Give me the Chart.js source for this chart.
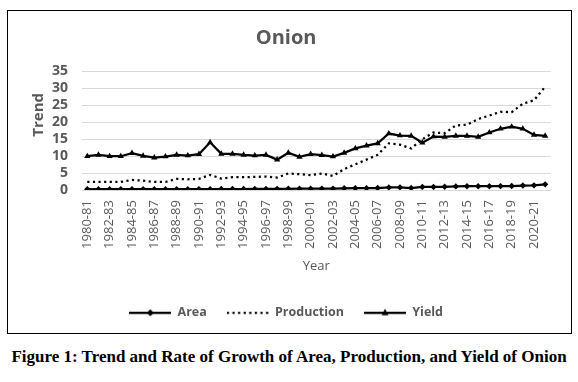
<!DOCTYPE html>
<html>
<head>
<meta charset="utf-8">
<script src="https://cdn.jsdelivr.net/npm/chart.js@4.4.0/dist/chart.umd.min.js"></script>
<style>
  html, body { margin: 0; padding: 0; background: #fff; }
  #box {
    position: absolute; left: 7px; top: 10px;
    width: 565px; height: 324px;
    border: 1px solid #000; box-sizing: border-box;
  }
  #caption {
    position: absolute; left: 0; top: 347px; width: 578px;
    text-align: center;
    font: bold 17px "Liberation Serif", "Times New Roman", serif;
    color: #000;
  }
</style>
</head>
<body>
<div id="box"><canvas id="trendChart" width="563" height="322"></canvas></div>
<div id="caption">Figure 1: Trend and Rate of Growth of Area, Production, and Yield of Onion</div>
<script>
var years = [
  '1980-81', '1981-82', '1982-83', '1983-84', '1984-85', '1985-86', '1986-87',
  '1987-88', '1988-89', '1989-90', '1990-91', '1991-92', '1992-93', '1993-94',
  '1994-95', '1995-96', '1996-97', '1997-98', '1998-99', '1999-00', '2000-01',
  '2001-02', '2002-03', '2003-04', '2004-05', '2005-06', '2006-07', '2007-08',
  '2008-09', '2009-10', '2010-11', '2011-12', '2012-13', '2013-14', '2014-15',
  '2015-16', '2016-17', '2017-18', '2018-19', '2019-20', '2020-21', '2021-22'
];

var area = [
  0.25, 0.26, 0.26, 0.27, 0.27, 0.28, 0.28, 0.28, 0.29, 0.29, 0.30,
  0.30, 0.31, 0.31, 0.32, 0.33, 0.35, 0.37, 0.40, 0.42, 0.43,
  0.44, 0.45, 0.55, 0.56, 0.58, 0.62, 0.80, 0.82, 0.62, 0.95,
  0.95, 0.98, 1.10, 1.15, 1.15, 1.15, 1.18, 1.20, 1.35, 1.40, 1.70
];

var production = [
  2.4, 2.4, 2.4, 2.4, 3.0, 2.8, 2.4, 2.4, 3.3, 3.2, 3.3,
  4.5, 3.4, 3.8, 3.8, 3.9, 4.0, 3.7, 4.9, 4.7, 4.4,
  4.9, 4.2, 6.2, 7.6, 9.0, 10.4, 13.8, 13.4, 12.3, 15.0,
  17.0, 16.8, 19.1, 19.3, 21.0, 22.0, 23.1, 23.0, 25.5, 26.5, 30.5
];

var yieldValues = [
  10.0, 10.4, 10.0, 10.0, 10.9, 10.1, 9.6, 9.9, 10.4, 10.2, 10.6,
  14.1, 10.7, 10.7, 10.4, 10.2, 10.4, 9.0, 11.0, 9.8, 10.6,
  10.3, 9.9, 11.0, 12.3, 13.1, 13.8, 16.7, 16.1, 16.0, 14.0,
  15.8, 15.7, 16.0, 16.0, 15.7, 17.0, 18.1, 18.7, 18.1, 16.3, 16.0
];

var yTicks = [0, 5, 10, 15, 20, 25, 30, 35];

var grey = '#595959';
var font = '"Open Sans", "DejaVu Sans", sans-serif';

// little canvas pictures used as legend symbols (line + marker)
function legendSymbol(kind) {
  var c = document.createElement('canvas');
  c.width = 42; c.height = 12;
  var g = c.getContext('2d');
  g.strokeStyle = '#000';
  g.fillStyle = '#000';
  g.lineWidth = 2.25;
  if (kind === 'dots') {
    g.setLineDash([2.2, 3.4]);
  }
  g.beginPath();
  g.moveTo(0, 6); g.lineTo(42, 6);
  g.stroke();
  g.setLineDash([]);
  if (kind === 'diamond') {
    g.beginPath();
    g.moveTo(21, 2.5); g.lineTo(24.5, 6); g.lineTo(21, 9.5); g.lineTo(17.5, 6);
    g.closePath(); g.fill();
  } else if (kind === 'triangle') {
    g.beginPath();
    g.moveTo(21, 2); g.lineTo(24.5, 8.5); g.lineTo(17.5, 8.5);
    g.closePath(); g.fill();
  }
  return c;
}

var symbols = [legendSymbol('diamond'), legendSymbol('dots'), legendSymbol('triangle')];

// y axis title sits a bit above the middle of the plot, like the Excel original
var yTitle = {
  id: 'yTitle',
  afterDraw: function (c) {
    var s = c.scales.y;
    var g = c.ctx;
    g.save();
    g.fillStyle = grey;
    g.font = 'bold 15px ' + font;
    g.textAlign = 'center';
    g.textBaseline = 'middle';
    g.translate(s.left + 19, (c.chartArea.top + c.chartArea.bottom) / 2 - 16);
    g.rotate(-Math.PI / 2);
    g.fillText('Trend', 0, 0);
    g.restore();
  }
};

var ctx = document.getElementById('trendChart').getContext('2d');
var chart = new Chart(ctx, {
  type: 'line',
  data: {
    labels: years,
    datasets: [{
      label: 'Area',
      data: area,
      borderColor: '#000',
      backgroundColor: '#000',
      borderWidth: 2.25,
      pointStyle: 'rectRot',
      pointRadius: 3.2,
      pointBorderWidth: 0,
      tension: 0
    }, {
      label: 'Production',
      data: production,
      borderColor: '#000',
      backgroundColor: '#000',
      borderWidth: 2.25,
      borderDash: [2.2, 3.4],
      pointRadius: 0,
      tension: 0
    }, {
      label: 'Yield',
      data: yieldValues,
      borderColor: '#000',
      backgroundColor: '#000',
      borderWidth: 2.25,
      pointStyle: 'triangle',
      pointRadius: 3.6,
      pointBorderWidth: 0,
      tension: 0
    }]
  },
  plugins: [yTitle],
  options: {
    responsive: false,
    animation: false,
    layout: { padding: { left: 12, right: 18.7, top: 0, bottom: 4 } },
    plugins: {
      title: {
        display: true,
        text: 'Onion',
        color: grey,
        font: { family: font, size: 20, weight: 'bold' },
        padding: { top: 15.5, bottom: 21 }
      },
      legend: {
        position: 'bottom',
        labels: {
          usePointStyle: true,
          pointStyleWidth: 42,
          padding: 20,
          color: grey,
          font: { family: font, size: 12.5, weight: 'bold' },
          generateLabels: function (c) {
            return c.data.datasets.map(function (ds, i) {
              return {
                text: ds.label,
                pointStyle: symbols[i],
                fontColor: grey,
                strokeStyle: '#000',
                fillStyle: '#000',
                lineWidth: 0,
                hidden: false,
                datasetIndex: i
              };
            });
          }
        }
      },
      tooltip: { enabled: false }
    },
    scales: {
      x: {
        offset: true,
        grid: { display: false, drawTicks: false, offset: true },
        border: { display: false },
        ticks: {
          autoSkip: false,
          minRotation: 90,
          maxRotation: 90,
          padding: 10,
          color: grey,
          font: { family: font, size: 13 },
          callback: function (v, i) { return i % 2 === 0 ? years[i] : ''; }
        },
        title: {
          display: true,
          text: 'Year',
          color: grey,
          font: { family: font, size: 13 },
          padding: { top: 0, bottom: 12 }
        }
      },
      y: {
        min: 0,
        max: 35,
        afterBuildTicks: function (s) {
          s.ticks = yTicks.map(function (v) { return { value: v }; });
        },
        afterFit: function (s) { s.width = 61.7; },
        grid: { color: '#d9d9d9', lineWidth: 1, drawTicks: false },
        border: { display: false },
        ticks: {
          autoSkip: false,
          padding: 13.7,
          color: grey,
          font: { family: font, size: 14, weight: 'bold' }
        },
        title: { display: false }
      }
    }
  }
});
</script>
</body>
</html>
